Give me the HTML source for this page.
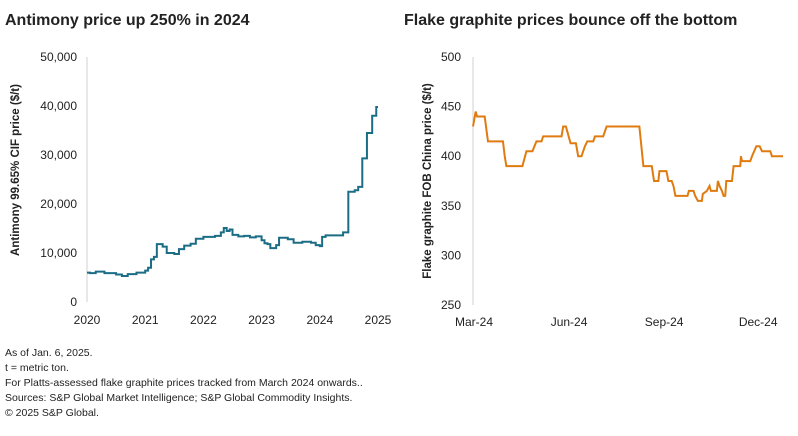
<!DOCTYPE html>
<html><head><meta charset="utf-8"><style>
body{margin:0;background:#fff;font-family:"Liberation Sans",sans-serif;}
svg text{font-family:"Liberation Sans",sans-serif;fill:#222;}
</style></head><body>
<svg id="s" width="798" height="431" viewBox="0 0 798 431">
<text x="5" y="25" font-size="16" font-weight="bold">Antimony price up 250% in 2024</text>
<text x="404" y="25" font-size="16" font-weight="bold">Flake graphite prices bounce off the bottom</text>
<text x="19" y="170" font-size="11.5" font-weight="bold" transform="rotate(-90 19 170)" text-anchor="middle">Antimony 99.65% CIF price ($/t)</text>
<text x="431" y="181" font-size="11.5" font-weight="bold" transform="rotate(-90 431 181)" text-anchor="middle">Flake graphite FOB China price ($/t)</text>
<g id="left"></g>
<g id="right"></g>
<g font-size="10.5">
<text x="5" y="356">As of Jan. 6, 2025.</text>
<text x="5" y="371">t = metric ton.</text>
<text x="5" y="386">For Platts-assessed flake graphite prices tracked from March 2024 onwards..</text>
<text x="5" y="401">Sources: S&amp;P Global Market Intelligence; S&amp;P Global Commodity Insights.</text>
<text x="5" y="416">© 2025 S&amp;P Global.</text>
</g>
</svg>
<script>
const antYears=[2020.0,2020.05,2020.15,2020.3,2020.5,2020.6,2020.7,2020.85,2021.0,2021.05,2021.1,2021.15,2021.2,2021.3,2021.37,2021.5,2021.58,2021.67,2021.78,2021.87,2022.0,2022.2,2022.3,2022.35,2022.4,2022.45,2022.5,2022.6,2022.7,2022.8,2022.9,2023.0,2023.05,2023.1,2023.15,2023.25,2023.3,2023.45,2023.55,2023.7,2023.85,2023.93,2024.0,2024.04,2024.1,2024.3,2024.4,2024.49,2024.6,2024.66,2024.73,2024.81,2024.9,2024.97,2025.0];
const antValues=[6000,5900,6200,5900,5600,5300,5700,6000,6400,7000,8700,9200,11800,11300,10000,9800,10800,11500,11900,12900,13300,13500,14200,15100,14500,14800,13700,13400,13500,13200,13400,12600,12000,11800,11000,11600,13100,12800,12100,12300,12100,11600,11400,13300,13600,13600,14200,22500,22800,23500,29300,34500,38000,39800,39800];
const antTicks=[0,10000,20000,30000,40000,50000];
const antXTicks=[2020,2021,2022,2023,2024,2025];
const grDays=[0,2.6,3.9,11.3,14.5,29,30.7,32.3,47.8,51.7,57.5,61.4,66.3,67.9,85.7,87.3,89.9,94.4,99.6,101.8,105,108.3,110.6,116.4,118,126,129.3,161,164.9,173,175.2,179.4,180.4,187.2,189.1,192.3,194,195.9,207.6,208.9,213.4,215,217.6,221.5,222.4,226.3,228.9,230.2,236,237,238.6,240.9,242.5,244.1,245.1,250.6,252.2,258.6,259.3,260.3,268.3,270,274.2,277.4,279.7,287.7,289.3,300];
const grValues=[430,445,440,440,415,415,400,390,390,405,405,415,415,420,420,430,430,413,413,400,400,410,415,415,420,420,430,430,390,390,375,375,385,385,375,375,370,360,360,365,365,360,355,355,362,365,370,365,365,375,370,365,360,360,375,375,390,390,400,395,395,400,410,410,405,405,400,400];
const grTicks=[250,300,350,400,450,500];
const grXLabels=["Mar-24","Jun-24","Sep-24","Dec-24"];
const grXDays=[0,92,184,275];

const NS="http://www.w3.org/2000/svg";
function mk(p,t,a){const e=document.createElementNS(NS,t);for(const k in a)e.setAttribute(k,a[k]);p.appendChild(e);return e;}
// left
const L=document.getElementById('left');
const lx=y=>87+(y-2020)*(378-87)/5, ly=v=>302-v*(302-57)/50000;
let ax=mk(L,'line',{x1:87,y1:57,x2:87,y2:302,stroke:'#d0d0d0','stroke-width':1});


antTicks.forEach(v=>{const t=mk(L,'text',{x:77,y:ly(v)+4,'text-anchor':'end','font-size':12});t.textContent=v.toLocaleString('en-US');

});
antXTicks.forEach(v=>{const t=mk(L,'text',{x:lx(v),y:324,'text-anchor':'middle','font-size':12});t.textContent=v;

});
let pts=[];
antYears.forEach((y,i)=>{ if(i>0) pts.push(lx(y)+','+ly(antValues[i-1])); pts.push(lx(y)+','+ly(antValues[i])); });
let lp=mk(L,'polyline',{points:pts.join(' '),fill:'none',stroke:'#1b6d85','stroke-width':2});


// right
const R=document.getElementById('right');
const rx=d=>473+d*(783-473)/300, ry=v=>305-(v-250)*(305-57)/250;
let ax2=mk(R,'line',{x1:473,y1:57,x2:473,y2:305,stroke:'#d0d0d0','stroke-width':1});


grTicks.forEach(v=>{const t=mk(R,'text',{x:461,y:ry(v)+4,'text-anchor':'end','font-size':12});t.textContent=v;

});
grXLabels.forEach((s,i)=>{const t=mk(R,'text',{x:rx(grXDays[i])+1,y:326,'text-anchor':'middle','font-size':12});t.textContent=s;

});
let rp=mk(R,'polyline',{points:grDays.map((d,i)=>rx(d)+','+ry(grValues[i])).join(' '),fill:'none',stroke:'#e07b10','stroke-width':2});


</script>
</body></html>
